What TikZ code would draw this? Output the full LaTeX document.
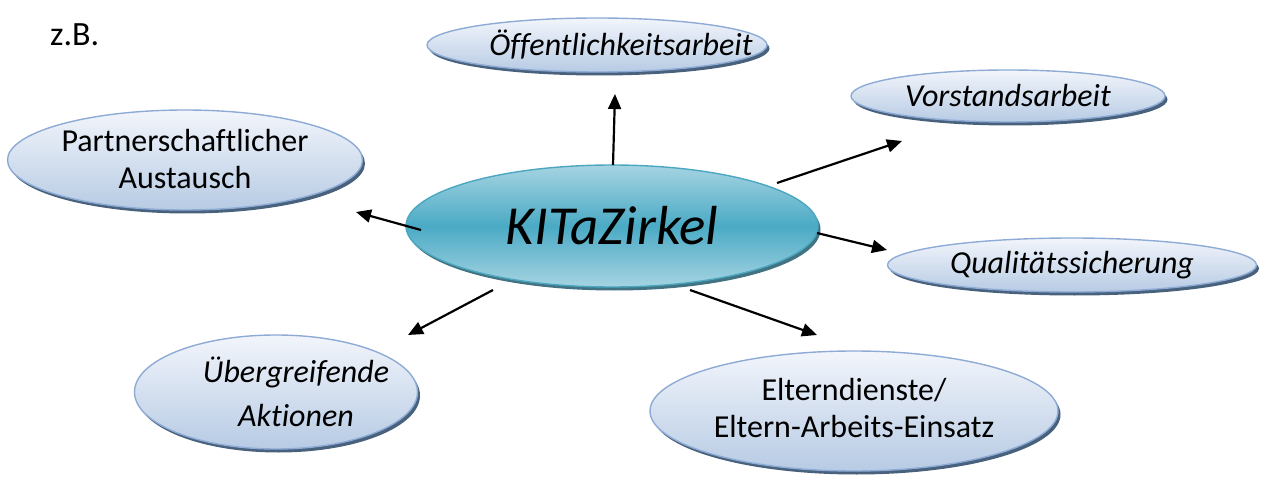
\documentclass[tikz,border=0pt]{standalone}
\usepackage{fontspec}
\setmainfont{Carlito}[Ligatures=NoCommon]
\usetikzlibrary{shapes.geometric,shadows,arrows.meta}
\definecolor{bord}{HTML}{8EABD6}
\definecolor{ltop}{HTML}{F2F5FB}
\definecolor{lbot}{HTML}{B7CBE4}
\definecolor{shd}{HTML}{34506F}
\definecolor{ctop}{HTML}{A6D4E2}
\definecolor{cmid}{HTML}{4AAAC5}
\definecolor{cbord}{HTML}{4BA7C0}
\definecolor{cshd}{HTML}{2C6476}
\tikzset{
  bubble/.style={ellipse, draw=bord, line width=1.4pt, inner sep=0pt,
    top color=ltop, bottom color=lbot,
    drop shadow={shadow xshift=2.5pt, shadow yshift=-3.5pt, fill=shd, opacity=0.9}},
  center/.style={ellipse, draw=cbord, line width=1.4pt, inner sep=0pt,
    top color=ctop, bottom color=ctop, middle color=cmid,
    drop shadow={shadow xshift=2.5pt, shadow yshift=-3.5pt, fill=cshd, opacity=0.9}},
  txt/.style={align=center, inner sep=0pt, font=\fontsize{32}{37}\selectfont},
  ittxt/.style={txt, font=\fontsize{32}{44}\selectfont\itshape},
  conn/.style={-{Triangle[length=15pt,width=13pt]}, line width=2.2pt, black}
}
\begin{document}
\begin{tikzpicture}[x=1pt,y=-1pt]
\useasboundingbox (0,0) rectangle (1261,481);
\node[font=\fontsize{34}{40}\selectfont, anchor=base west, inner sep=0pt] (zb) at (50,46) {z.B.};
\node[center, minimum width=412pt, minimum height=122pt] (k) at (612,226) {};
\node[font=\fontsize{55}{60}\selectfont\itshape, inner sep=0pt] (kt) at (k.center) {KITaZirkel};
\node[bubble, minimum width=340pt, minimum height=54pt] (oa) at (597,45) {};
\node[ittxt] (oat) at ([xshift=24pt]oa.center) {Öffentlichkeitsarbeit};
\node[bubble, minimum width=314pt, minimum height=52pt] (va) at (1008,96) {};
\node[ittxt] (vat) at (va.center) {Vorstandsarbeit};
\node[bubble, minimum width=355pt, minimum height=100pt] (pa) at (185,160) {};
\node[txt] (pat) at ([yshift=1pt]pa.center) {Partnerschaftlicher\\Austausch};
\node[bubble, minimum width=369pt, minimum height=54pt] (qs) at (1072,265) {};
\node[ittxt] (qst) at (qs.center) {Qualitätssicherung};
\node[bubble, minimum width=283pt, minimum height=114pt] (ua) at (276,392) {};
\node[ittxt] (uat) at ([xshift=20pt]ua.center) {Übergreifende\\Aktionen};
\node[bubble, minimum width=408pt, minimum height=120pt] (ed) at (854,411) {};
\node[txt] (edt) at ([yshift=3pt]ed.center) {Elterndienste/\\Eltern-Arbeits-Einsatz};
\coordinate (s1) at (613,165); \coordinate (e1) at (615,94);
\coordinate (s2) at (777,183); \coordinate (e2) at (902,141);
\coordinate (s3) at (817,233); \coordinate (e3) at (887,250);
\coordinate (s4) at (690,290); \coordinate (e4) at (817,335);
\coordinate (s5) at (493,290); \coordinate (e5) at (408,335);
\coordinate (s6) at (421,230); \coordinate (e6) at (356,212);
\draw[conn] (s1) -- (e1);
\draw[conn] (s2) -- (e2);
\draw[conn] (s3) -- (e3);
\draw[conn] (s4) -- (e4);
\draw[conn] (s5) -- (e5);
\draw[conn] (s6) -- (e6);
\end{tikzpicture}
\end{document}
